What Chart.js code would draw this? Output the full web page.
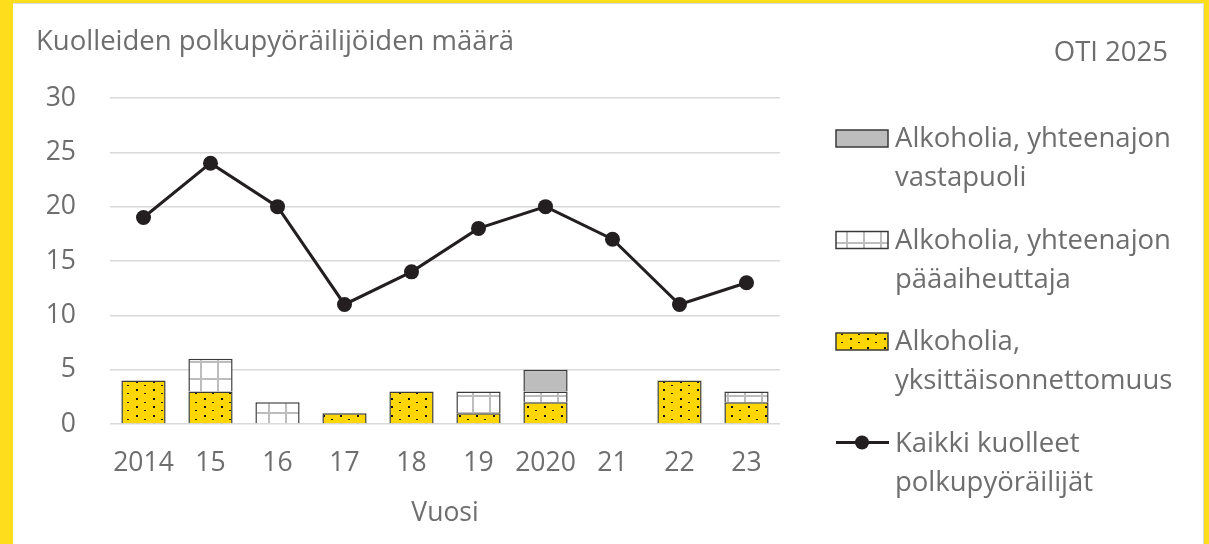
<!DOCTYPE html>
<html>
<head>
<meta charset="utf-8">
<script src="https://cdn.jsdelivr.net/npm/chart.js@4"></script>
<style>
  html, body { margin: 0; padding: 0; }
  body { width: 1209px; height: 544px; background: #fede1c; position: relative; overflow: hidden; }
  #box { position: absolute; left: 13px; top: 3px; width: 1190px; height: 541px; background: #fff;
         border-top: 1px solid #dcdcdc; border-right: 1px solid #dcdcdc; }
  #wrap { position: absolute; left: 0; top: 0; width: 1190px; height: 540px; }
</style>
</head>
<body>
<div id="box"><div id="wrap"><canvas id="chart"></canvas></div></div>
<script>
// vuodet ja arvot
const years = ['2014', '15', '16', '17', '18', '19', '2020', '21', '22', '23'];
const allDeaths = [19, 24, 20, 11, 14, 18, 20, 17, 11, 13];
const singleAccident = [4, 3, 0, 1, 3, 1, 2, 0, 4, 2];
const mainCause = [0, 3, 2, 0, 0, 2, 1, 0, 0, 1];
const counterparty = [0, 0, 0, 0, 0, 0, 2, 0, 0, 0];

const labelSingle = ['Alkoholia,', 'yksittäisonnettomuus'];
const labelMain = ['Alkoholia, yhteenajon', 'pääaiheuttaja'];
const labelCounter = ['Alkoholia, yhteenajon', 'vastapuoli'];
const labelAll = ['Kaikki kuolleet', 'polkupyöräilijät'];

const textColor = '#6e6e6e';
const fontFamily = '"Open Sans", sans-serif';
const lineColor = '#231f20';
const barBorder = '#3a3a3a';

function makePattern(size, drawFn) {
    const c = document.createElement('canvas');
    c.width = size; c.height = size;
    const g = c.getContext('2d');
    drawFn(g);
    return g.createPattern(c, 'repeat');
}

const ctx = document.getElementById('chart').getContext('2d');

// keltainen pisterasteri
const dotPattern = makePattern(17, g => {
    g.fillStyle = '#ffd600';
    g.fillRect(0, 0, 17, 17);
    g.fillStyle = '#111';
    g.fillRect(4, 3, 2, 2);
    g.fillRect(4, 11, 2, 2);
    g.fillRect(12, 7, 2, 1);
    g.fillRect(12, 15, 2, 1);
});

// valkoinen ruudukko
const gridPattern = makePattern(17, g => {
    g.fillStyle = '#fff';
    g.fillRect(0, 0, 17, 17);
    g.fillStyle = '#bdbdbd';
    g.fillRect(0, 0, 2, 17);
    g.fillRect(0, 0, 17, 2);
});

const grayFill = '#bdbdbd';

const legendOrder = [2, 1, 0, 3];

const headerAndLegend = {
    id: 'headerAndLegend',
    afterDraw(chart) {
        const c = chart.ctx;
        c.save();
        c.fillStyle = textColor;
        c.font = '27.5px ' + fontFamily;
        c.textBaseline = 'alphabetic';
        c.textAlign = 'left';
        c.fillText('Kuolleiden polkupyöräilijöiden määrä', 23, 46);
        c.textAlign = 'right';
        c.fillText('OTI 2025', 1155, 57);

        // selite
        const sx = 823, sw = 52, sh = 17, tx = 882;
        let base = 143;
        const pitch = 101.5, lh = 39;
        c.textAlign = 'left';
        c.font = '27.5px ' + fontFamily;
        legendOrder.forEach(i => {
            const ds = chart.data.datasets[i];
            if (ds.type === 'line') {
                c.strokeStyle = lineColor;
                c.lineWidth = 3;
                c.beginPath();
                c.moveTo(sx, base - 9);
                c.lineTo(sx + sw + 1, base - 9);
                c.stroke();
                c.fillStyle = lineColor;
                c.beginPath();
                c.arc(sx + sw / 2, base - 9, 7, 0, Math.PI * 2);
                c.fill();
            } else {
                c.fillStyle = ds.backgroundColor;
                c.fillRect(sx, base - sh, sw, sh);
                c.strokeStyle = barBorder;
                c.lineWidth = 1.5;
                c.strokeRect(sx, base - sh, sw, sh);
            }
            c.fillStyle = textColor;
            ds.legendText.forEach((t, k) => c.fillText(t, tx, base + k * lh));
            base += pitch;
        });
        c.restore();
    }
};

const bw = c => (c.raw ? 1.5 : 0);

new Chart(ctx, {
    type: 'bar',
    data: {
        labels: years,
        datasets: [
            { label: labelSingle.join(' '), legendText: labelSingle, data: singleAccident,
              backgroundColor: dotPattern, borderColor: barBorder, borderWidth: bw, stack: 'bars', order: 1 },
            { label: labelMain.join(' '), legendText: labelMain, data: mainCause,
              backgroundColor: gridPattern, borderColor: barBorder, borderWidth: bw, stack: 'bars', order: 1 },
            { label: labelCounter.join(' '), legendText: labelCounter, data: counterparty,
              backgroundColor: grayFill, borderColor: barBorder, borderWidth: bw, stack: 'bars', order: 1 },
            { type: 'line', label: labelAll.join(' '), legendText: labelAll, data: allDeaths,
              borderColor: lineColor, backgroundColor: lineColor, borderWidth: 3,
              pointRadius: 7.5, pointBackgroundColor: lineColor, pointBorderWidth: 0,
              stack: 'line', order: 0 }
        ]
    },
    options: {
        responsive: true,
        maintainAspectRatio: false,
        animation: false,
        layout: { padding: { left: 0, top: 94, right: 423, bottom: 15 } },
        datasets: { bar: { categoryPercentage: 1, barPercentage: 0.66 } },
        plugins: {
            legend: { display: false },
            tooltip: { enabled: false }
        },
        scales: {
            x: {
                stacked: true,
                grid: { display: false, drawTicks: false },
                border: { display: false },
                ticks: { color: textColor, font: { family: fontFamily, size: 26.5 }, padding: 24, maxRotation: 0, autoSkip: false },
                title: { display: true, text: 'Vuosi', color: textColor, font: { family: fontFamily, size: 26.5 }, padding: 0 },
                afterFit: s => { s.height = 105; }
            },
            y: {
                stacked: true,
                min: 0, max: 30,
                ticks: { stepSize: 5, color: textColor, font: { family: fontFamily, size: 26.5 }, padding: 34 },
                grid: { color: '#d9d9d9', lineWidth: 1.5, drawTicks: false },
                border: { display: false },
                afterFit: s => { s.width = 97; }
            }
        }
    },
    plugins: [headerAndLegend]
});
</script>
</body>
</html>
